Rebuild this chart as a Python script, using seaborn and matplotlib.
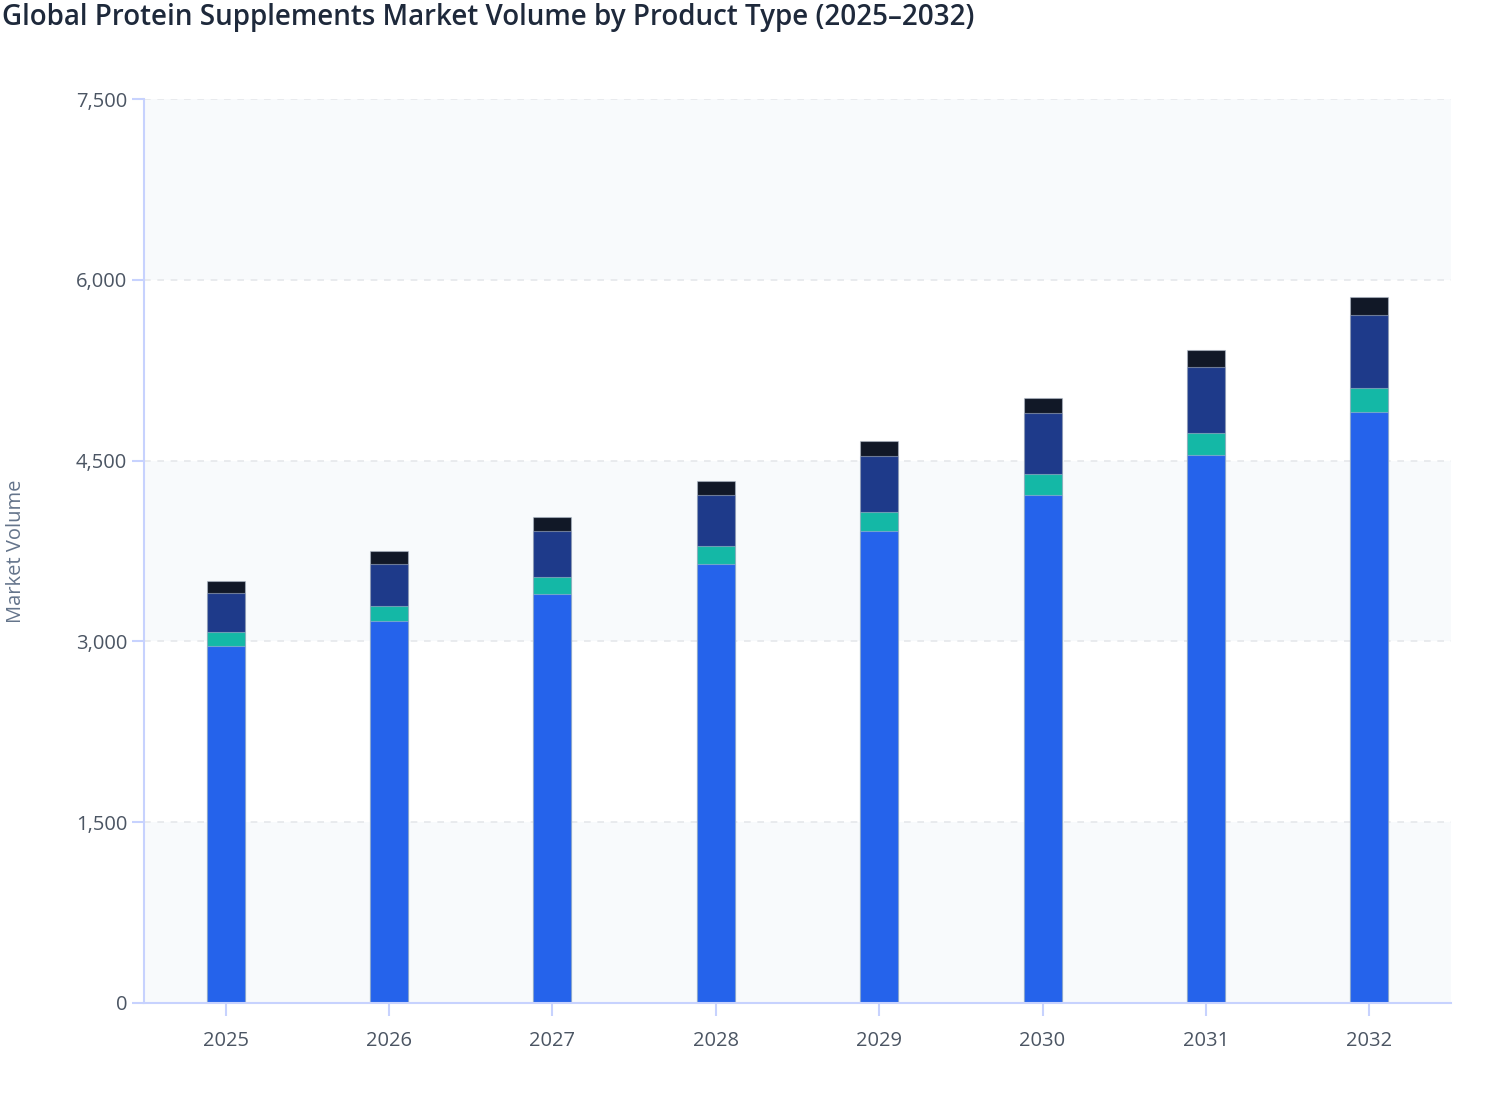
import numpy as np
import pandas as pd
import matplotlib
matplotlib.use("Agg")
import matplotlib.pyplot as plt
import seaborn as sns
from matplotlib.ticker import FuncFormatter, MultipleLocator

years = ["2025", "2026", "2027", "2028", "2029", "2030", "2031", "2032"]
whey = [2960, 3167, 3396, 3642, 3916, 4215, 4544, 4900]
plant = [115, 127, 136, 150, 158, 171, 185, 205]
casein = [325, 351, 381, 420, 462, 506, 550, 603]
other = [100, 105, 117, 116, 124, 130, 139, 147]

series_names = ["Whey Protein", "Plant Protein", "Casein & Blends", "Others"]
series_vals = [whey, plant, casein, other]
colors = ["#2563eb", "#14b8a6", "#1e3a8a", "#111827"]

sns.set_theme(style="white")
plt.rcParams["font.family"] = ["Open Sans", "Noto Sans", "DejaVu Sans"]

fig = plt.figure(figsize=(15.08, 11.2), dpi=100)
ax = fig.add_axes([144 / 1508, 1 - 1003 / 1120, (1451 - 144) / 1508, (1003 - 99) / 1120])

# background bands
for lo in (0, 3000, 6000):
    ax.axhspan(lo, lo + 1500, color="#f8fafc", zorder=0, lw=0)

# stacked bars via cumulative overlays
cum = np.cumsum(np.array(series_vals), axis=0)
for i in range(len(series_names) - 1, -1, -1):
    df = pd.DataFrame({"Year": years, "Value": cum[i]})
    sns.barplot(data=df, x="Year", y="Value", color=colors[i], width=0.232,
                saturation=1, ax=ax, zorder=3, edgecolor=(0.7, 0.74, 0.8, 0.55),
                linewidth=0.8, errorbar=None)

ax.set_xlim(-0.5, 7.5)
ax.set_ylim(0, 7500)
ax.yaxis.set_major_locator(MultipleLocator(1500))
ax.yaxis.set_major_formatter(FuncFormatter(lambda v, p: f"{int(v):,}"))
ax.grid(axis="y", color="#e5e7eb", linestyle=(0, (4, 4)), linewidth=1.2, zorder=1)
ax.set_axisbelow(True)

for s in ("top", "right"):
    ax.spines[s].set_visible(False)
for s in ("left", "bottom"):
    ax.spines[s].set_color("#c7d2fe")
    ax.spines[s].set_linewidth(1.5)
    ax.spines[s].set_zorder(4)

ax.tick_params(axis="y", length=9, width=1.5, color="#c7d2fe", pad=3,
               labelsize=14.5, labelcolor="#4b5563", left=True)
ax.tick_params(axis="x", length=9, width=1.5, color="#c7d2fe", pad=11,
               labelsize=14.5, labelcolor="#4b5563", bottom=True)
ax.set_xlabel("")
ax.set_ylabel("")

fig.text(16 / 1508, 1 - 551 / 1120, "Market Volume", rotation=90, ha="center",
         va="center", fontsize=14.5, color="#64748b")
fig.text(2 / 1508, 1 - 18 / 1120, "Global Protein Supplements Market Volume by Product Type (2025\u20132032)",
         ha="left", va="center", fontsize=20, fontweight="semibold", color="#1e293b")

fig.savefig("out.png", dpi=100, facecolor="white")
